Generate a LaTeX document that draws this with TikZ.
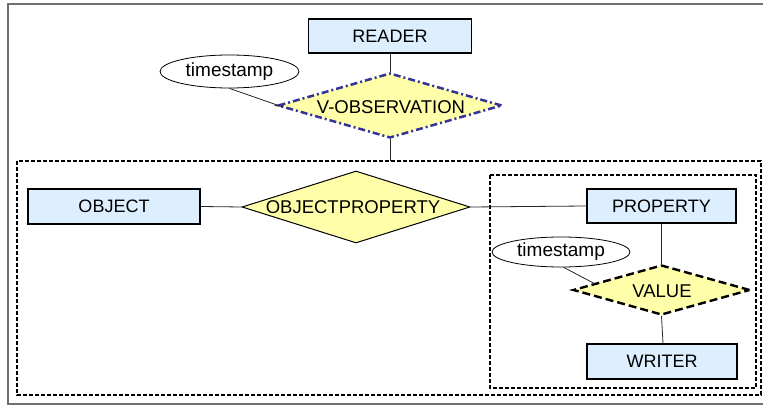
\documentclass[tikz,border=0pt]{standalone}
\usepackage{fontspec}
\setmainfont{Liberation Sans}
\usetikzlibrary{shapes.geometric,calc}
\definecolor{boxfill}{HTML}{DDEEFF}
\definecolor{relfill}{HTML}{FFFFAA}
\definecolor{obsblue}{HTML}{333399}
\definecolor{framegray}{HTML}{707070}
\tikzset{
  entity/.style={draw=black, line width=1.8pt, fill=boxfill, minimum width=162pt, minimum height=34pt, inner sep=0pt, font=\fontsize{18}{20}\selectfont},
  rel/.style={shape=diamond, draw=black, fill=relfill, inner sep=0pt},
  reltext/.style={inner sep=0pt, font=\fontsize{18.5}{20}\selectfont},
  attr/.style={shape=ellipse, draw=black, line width=0.8pt, fill=white, inner sep=0pt, font=\fontsize{19}{21}\selectfont},
  conn/.style={draw=black!85, line width=0.8pt},
  groupbox/.style={draw=black, line width=1.3pt, dash pattern=on 4pt off 2pt},
}
\begin{document}
\begin{tikzpicture}[x=1pt,y=-1pt]
\useasboundingbox (0,0) rectangle (763,406);
% outer frame
\draw[framegray, line width=1.8pt] (763,4) -- (8,4) -- (8,404) -- (763,404);
% group boxes
\draw[groupbox] (17,161) rectangle (761,395);
\draw[groupbox] (490,175) rectangle (756,388);
\coordinate (gtop) at (390,161);
% entities
\node[entity, minimum width=163pt] (reader) at (390,36) {READER};
\node[entity, minimum width=172pt, minimum height=35pt] (object) at (114,206.5) {OBJECT};
\node[entity, minimum width=149pt] (property) at (661.5,206) {PROPERTY};
\node[entity, minimum width=150pt, minimum height=35pt] (writer) at (662,361.5) {WRITER};
% relationships
\node[rel, draw=obsblue, line width=2.5pt, dash pattern=on 7pt off 3pt on 2pt off 3pt, minimum width=224pt, minimum height=65pt] (vobs) at (390,105.5) {};
\node[reltext] (vobslabel) at (391,107) {V-OBSERVATION};
\node[rel, line width=1pt, minimum width=228pt, minimum height=72pt] (op) at (356,207) {};
\node[reltext] (oplabel) at (353,207) {OBJECTPROPERTY};
\node[rel, line width=2.4pt, dash pattern=on 8pt off 4pt, minimum width=177pt, minimum height=50pt] (val) at (661.5,290) {};
\node[reltext] (vallabel) at (662,291) {VALUE};
% attributes
\node[attr, minimum width=139pt, minimum height=33pt] (ts1) at (229.5,71.5) {timestamp};
\node[attr, minimum width=138pt, minimum height=30pt] (ts2) at (561,252) {timestamp};
% connectors
\draw[conn] (reader.south) -- (vobs.north);
\draw[conn] (vobs.south) -- (gtop);
\draw[conn] (ts1.south) -- ($(vobs.west)+(6,1.5)$);
\draw[conn] (object.east) -- (op.west);
\draw[conn] (op.east) -- (property.west);
\draw[conn] (property.south) -- (val.north);
\draw[conn] (val.south) -- ($(writer.north)+(1,0)$);
\draw[conn] (ts2.-80) -- ($(val.west)!0.25!(val.north)$);
\end{tikzpicture}
\end{document}
